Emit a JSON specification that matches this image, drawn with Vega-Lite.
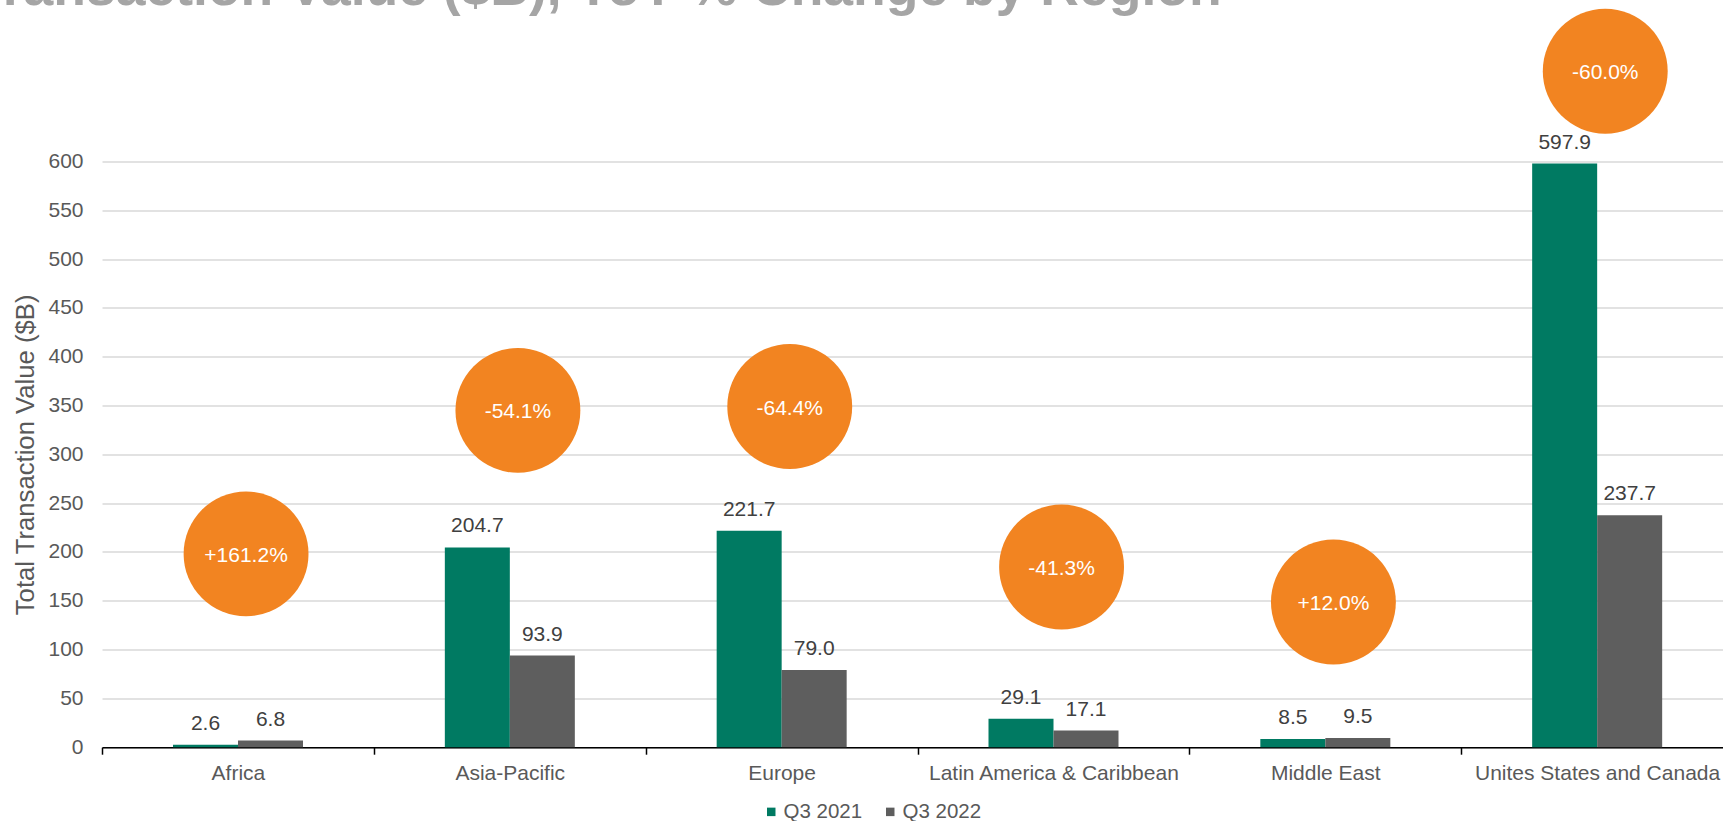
{
  "$schema": "https://vega.github.io/schema/vega-lite/v6.json",
  "autosize": "none",
  "width": 1621,
  "height": 585.7,
  "padding": {"left": 102, "top": 161.5, "right": 0, "bottom": 73.8},
  "background": "white",
  "config": {"font": "Liberation Sans", "view": {"stroke": null}},
  "title": {
    "text": "Transaction Value ($B), YoY % Change by Region",
    "anchor": "start",
    "frame": "group",
    "orient": "top",
    "baseline": "alphabetic",
    "offset": 0,
    "dx": -129,
    "dy": 50,
    "fontSize": 53.5,
    "fontWeight": "bold",
    "color": "#A5A5A5"
  },
  "datasets": {
    "bars": [
      {"region": "Africa", "series": "Q3 2021", "value": 2.6},
      {"region": "Africa", "series": "Q3 2022", "value": 6.8},
      {"region": "Asia-Pacific", "series": "Q3 2021", "value": 204.7},
      {"region": "Asia-Pacific", "series": "Q3 2022", "value": 93.9},
      {"region": "Europe", "series": "Q3 2021", "value": 221.7},
      {"region": "Europe", "series": "Q3 2022", "value": 79.0},
      {"region": "Latin America & Caribbean", "series": "Q3 2021", "value": 29.1},
      {"region": "Latin America & Caribbean", "series": "Q3 2022", "value": 17.1},
      {"region": "Middle East", "series": "Q3 2021", "value": 8.5},
      {"region": "Middle East", "series": "Q3 2022", "value": 9.5},
      {"region": "Unites States and Canada", "series": "Q3 2021", "value": 597.9},
      {"region": "Unites States and Canada", "series": "Q3 2022", "value": 237.7}
    ],
    "bubbles": [
      {"region": "Africa", "change": "+161.2%", "bubble_y": 198},
      {"region": "Asia-Pacific", "change": "-54.1%", "bubble_y": 345},
      {"region": "Europe", "change": "-64.4%", "bubble_y": 349},
      {"region": "Latin America & Caribbean", "change": "-41.3%", "bubble_y": 184.6},
      {"region": "Middle East", "change": "+12.0%", "bubble_y": 148.7},
      {"region": "Unites States and Canada", "change": "-60.0%", "bubble_y": 692.5}
    ]
  },
  "layer": [
    {
      "data": {"name": "bars"},
      "mark": {"type": "bar"},
      "encoding": {
        "x": {
          "field": "region", "type": "nominal", "sort": null,
          "scale": {"range": [0, 1631], "paddingInner": 0, "paddingOuter": 0},
          "axis": {
            "title": null,
            "tickBand": "extent",
            "domainColor": "#000000",
            "domainWidth": 1.5,
            "tickColor": "#000000",
            "tickWidth": 1.5,
            "tickSize": 7,
            "labelFontSize": 21,
            "labelColor": "#595959",
            "labelPadding": 24.8,
            "labelBaseline": "alphabetic",
            "labelAngle": 0,
            "labelLimit": 0,
            "grid": false
          }
        },
        "xOffset": {
          "field": "series", "type": "nominal",
          "scale": {"range": [71, 201], "paddingInner": 0, "paddingOuter": 0}
        },
        "y": {
          "field": "value", "type": "quantitative",
          "scale": {"domain": [0, 600], "nice": false},
          "axis": {
            "values": [0, 50, 100, 150, 200, 250, 300, 350, 400, 450, 500, 550, 600],
            "domain": false,
            "ticks": false,
            "grid": true,
            "gridColor": "#D9D9D9",
            "gridWidth": 1.5,
            "labelFontSize": 21,
            "labelColor": "#595959",
            "labelPadding": 19,
            "labelBaseline": "middle",
            "title": "Total Transaction Value ($B)",
            "titleFontSize": 25.7,
            "titleFontWeight": "normal",
            "titleColor": "#595959",
            "titleAngle": -90,
            "titleX": -77,
            "titleY": 292.85,
            "titleAlign": "center",
            "titleBaseline": "middle"
          }
        },
        "color": {
          "field": "series", "type": "nominal",
          "scale": {"domain": ["Q3 2021", "Q3 2022"], "range": ["#007A62", "#5E5E5E"]},
          "legend": {
            "orient": "none",
            "legendX": 659,
            "legendY": 640,
            "direction": "horizontal",
            "title": null,
            "symbolType": "square",
            "symbolSize": 72,
            "symbolStrokeWidth": 0,
            "labelFontSize": 20.5,
            "labelColor": "#595959",
            "labelOffset": 2,
            "columnPadding": 17,
            "padding": 0
          }
        }
      }
    },
    {
      "data": {"name": "bars"},
      "mark": {"type": "text", "dy": -15, "baseline": "alphabetic", "fontSize": 21, "color": "#404040"},
      "encoding": {
        "x": {"field": "region", "type": "nominal", "sort": null},
        "xOffset": {"field": "series", "type": "nominal"},
        "y": {"field": "value", "type": "quantitative"},
        "text": {"field": "value", "type": "quantitative", "format": ".1f"}
      }
    },
    {
      "data": {"name": "bubbles"},
      "mark": {"type": "circle", "size": 15600, "color": "#F28421", "opacity": 1},
      "encoding": {
        "x": {"field": "region", "type": "nominal", "sort": null, "bandPosition": 0.53},
        "y": {"field": "bubble_y", "type": "quantitative"}
      }
    },
    {
      "data": {"name": "bubbles"},
      "mark": {"type": "text", "baseline": "middle", "dy": 2, "fontSize": 21, "color": "#FFFFFF"},
      "encoding": {
        "x": {"field": "region", "type": "nominal", "sort": null, "bandPosition": 0.53},
        "y": {"field": "bubble_y", "type": "quantitative"},
        "text": {"field": "change", "type": "nominal"}
      }
    }
  ]
}
